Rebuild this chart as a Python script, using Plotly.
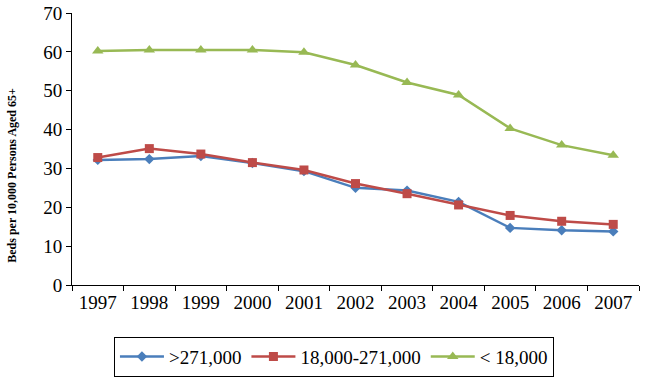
import plotly.graph_objects as go

# Data
years = ['1997', '1998', '1999', '2000', '2001', '2002', '2003', '2004', '2005', '2006', '2007']
large = [32.2, 32.4, 33.2, 31.4, 29.3, 25.0, 24.3, 21.4, 14.7, 14.1, 13.8]
medium = [32.8, 35.1, 33.7, 31.5, 29.6, 26.1, 23.5, 20.6, 17.9, 16.4, 15.6]
small = [60.2, 60.5, 60.5, 60.5, 59.9, 56.6, 52.1, 48.9, 40.3, 36.0, 33.4]

fig = go.Figure()

fig.add_trace(go.Scatter(
    x=years, y=large, name='>271,000', mode='lines+markers',
    line=dict(color='#4A7EBB', width=2.5),
    marker=dict(symbol='diamond', size=8, color='#4A7EBB')
))
fig.add_trace(go.Scatter(
    x=years, y=medium, name='18,000-271,000', mode='lines+markers',
    line=dict(color='#BE4B48', width=2.5),
    marker=dict(symbol='square', size=9, color='#BE4B48')
))
fig.add_trace(go.Scatter(
    x=years, y=small, name='< 18,000', mode='lines+markers',
    line=dict(color='#98B954', width=2.5),
    marker=dict(symbol='triangle-up', size=10, color='#98B954')
))

fig.update_layout(
    width=649,
    height=380,
    margin=dict(l=72, r=10, t=13, b=95, autoexpand=False),
    paper_bgcolor='white',
    plot_bgcolor='white',
    font=dict(family='Times New Roman, Liberation Serif, serif', size=19, color='black'),
    showlegend=True,
    legend=dict(
        orientation='h',
        xanchor='center',
        x=0.462,
        yanchor='top',
        y=-0.19,
        bordercolor='black',
        borderwidth=1,
        font=dict(size=19),
        itemwidth=44
    ),
    xaxis=dict(
        type='category',
        tickson='boundaries',
        ticks='outside',
        ticklen=5,
        tickcolor='black',
        showline=True,
        linecolor='black',
        linewidth=1,
        showgrid=False,
        automargin=False,
        range=[-0.5, 10.5]
    ),
    yaxis=dict(
        range=[0, 70],
        dtick=10,
        ticks='outside',
        ticklen=5,
        tickcolor='black',
        showline=True,
        linecolor='black',
        linewidth=1,
        showgrid=False,
        zeroline=False,
        automargin=False
    ),
    # y title sits a bit below the axis middle in the original
    annotations=[dict(
        text='<b>Beds per 10,000 Persons Aged 65+</b>',
        textangle=-90,
        xref='paper', yref='paper',
        x=-0.106, y=0.405,
        xanchor='center', yanchor='middle',
        showarrow=False,
        font=dict(size=12)
    )]
)

# drop the default page margin so the chart sits at the top-left corner
fig.write_html(
    "out.html",
    config={'displayModeBar': False},
    post_script="document.body.style.margin = '0';"
)
